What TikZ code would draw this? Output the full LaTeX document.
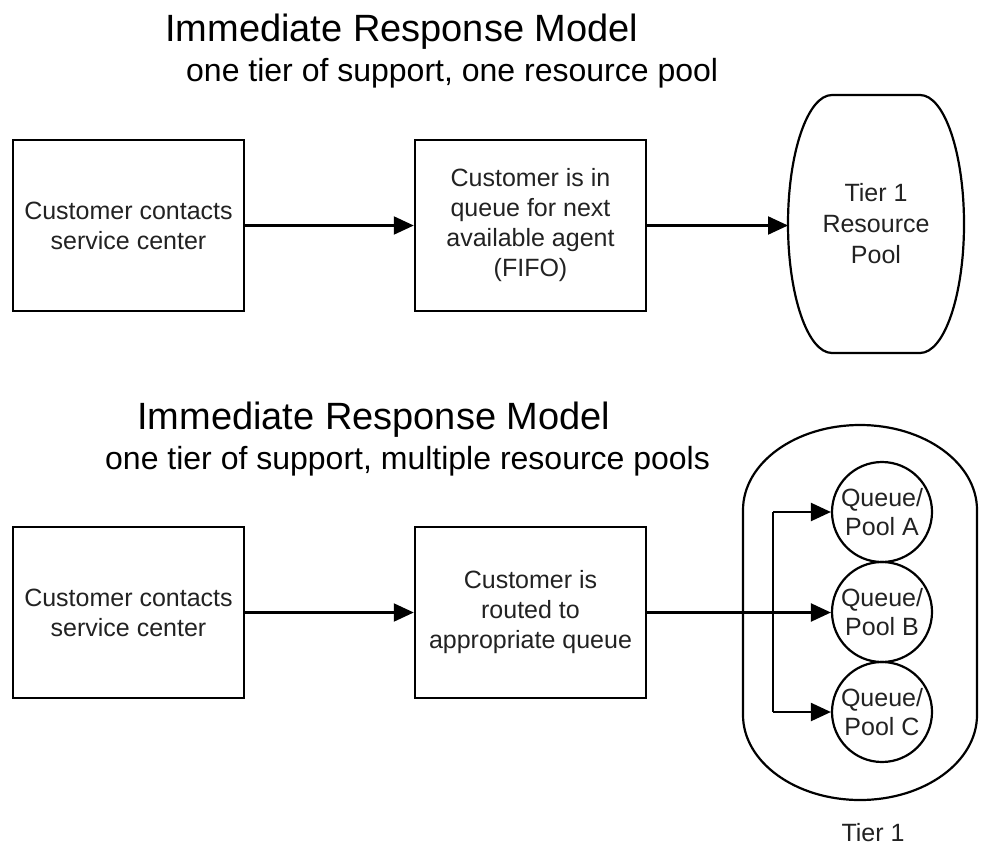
\documentclass[tikz,border=0pt]{standalone}
\usepackage{fontspec}
\setmainfont{Liberation Sans}
\usetikzlibrary{arrows.meta}
\definecolor{txt}{HTML}{222222}
\begin{document}
\begin{tikzpicture}[x=1pt,y=-1pt,
  boxnode/.style={draw, line width=2.5pt, minimum width=231pt, minimum height=171pt,
    inner sep=0pt, align=center, text=txt, font=\fontsize{25}{30}\selectfont},
  qnode/.style={draw, circle, line width=2.2pt, minimum size=100pt, inner sep=0pt,
    align=center, text=txt, font=\fontsize{25}{29}\selectfont},
  plain/.style={text=txt, align=center, font=\fontsize{25}{31}\selectfont},
  titletext/.style={anchor=base west, inner sep=0pt, font=\fontsize{38}{44}\selectfont},
  subtext/.style={anchor=base west, inner sep=0pt, font=\fontsize{32}{38}\selectfont},
  arr/.style={line width=2.2pt, -{Triangle[length=20pt,width=18pt]}},
  conn/.style={line width=2.2pt},
  outline/.style={line width=2.2pt}]
\useasboundingbox (0,0) rectangle (981,845);

% ---- top model ----
\node[titletext] (t1) at (165,42) {Immediate Response Model};
\node[subtext] (s1) at (186,82) {one tier of support, one resource pool};

\node[boxnode] (a1) at (128.5,225.5) {Customer contacts\\service center};
\node[boxnode] (a2) at (530.5,225.5) {Customer is in\\queue for next\\available agent\\(FIFO)};

\draw[outline] (832,95) -- (920,95)
  .. controls (944.3,95) and (964,152.8) .. (964,224)
  .. controls (964,295.2) and (944.3,353) .. (920,353)
  -- (832,353)
  .. controls (807.7,353) and (788,295.2) .. (788,224)
  .. controls (788,152.8) and (807.7,95) .. (832,95) -- cycle;
\node[plain] (pool) at (876,224) {Tier 1\\Resource\\Pool};
\coordinate (poolW) at (788,224);

\draw[arr] (a1.east) -- (a2.west);
\draw[arr] (a2.east) -- (a2.east -| poolW);

% ---- bottom model ----
\node[titletext] (t2) at (137,429) {Immediate Response Model};
\node[subtext] (s2) at (105,469) {one tier of support, multiple resource pools};

\node[boxnode] (b1) at (128.5,612.5) {Customer contacts\\service center};
\node[boxnode] (b2) at (530.5,612.5) {Customer is\\routed to\\appropriate queue};

\draw[outline] (743,510) -- (743,715)
  .. controls (743,761.9) and (795.4,800) .. (860,800)
  .. controls (924.6,800) and (977,761.9) .. (977,715)
  -- (977,510)
  .. controls (977,463.1) and (924.6,425) .. (860,425)
  .. controls (795.4,425) and (743,463.1) .. (743,510) -- cycle;

\node[qnode] (qa) at (882,512) {Queue/\\Pool A};
\node[qnode] (qb) at (882,612) {Queue/\\Pool B};
\node[qnode] (qc) at (882,712) {Queue/\\Pool C};

\coordinate (ja) at (773,512);
\coordinate (jc) at (773,712);

\draw[arr] (b1.east) -- (b2.west);
\draw[arr] (b2.east) -- (b2.east -| qb.west);
\draw[conn] (ja) -- (jc);
\draw[arr] (ja) -- (qa.west);
\draw[arr] (jc) -- (qc.west);

\node[plain, anchor=base] (tier) at (873,841) {Tier 1};
\end{tikzpicture}
\end{document}
